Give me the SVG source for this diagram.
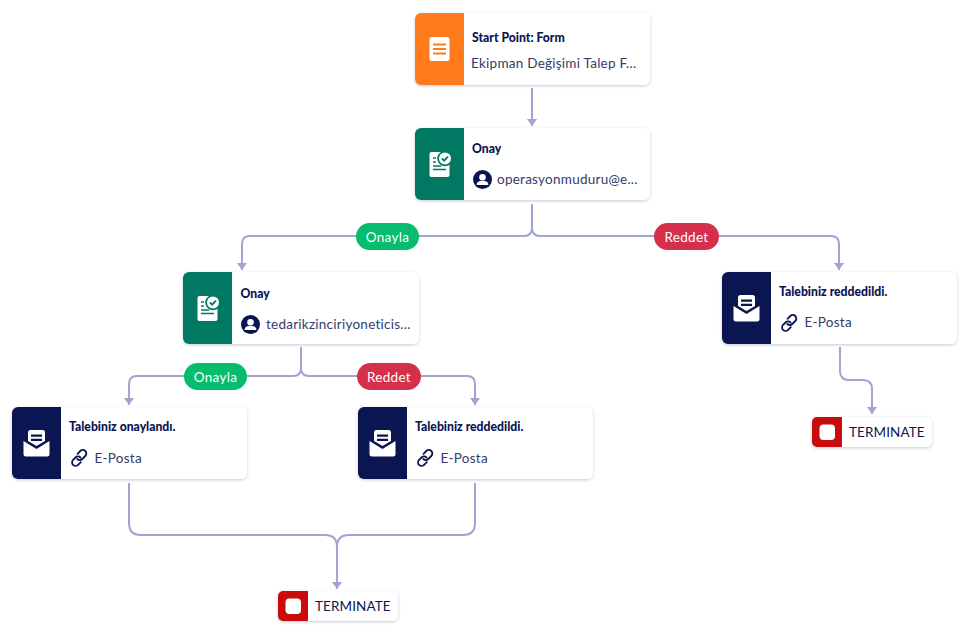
<svg xmlns="http://www.w3.org/2000/svg" xmlns:xlink="http://www.w3.org/1999/xlink" width="968" height="633" viewBox="0 0 968 633">
<style>
text{font-family:"Lato","Liberation Sans",sans-serif}
.card{fill:#fff;filter:url(#sh)}
.t{font-size:12.2px;font-weight:900;fill:#0a1551}
.s{font-size:13.5px;fill:#343c6a;letter-spacing:.25px}
.p{font-size:13.5px;fill:#fff;text-anchor:middle;letter-spacing:.3px}
.term{font-size:13.5px;fill:#0a1551;letter-spacing:.1px}
.c{fill:none;stroke:#a0a4d0;stroke-width:2;marker-end:url(#a)}
.l{fill:none;stroke:#a0a4d0;stroke-width:2}
</style>
<defs>
<filter id="sh" x="-10%" y="-20%" width="120%" height="140%"><feDropShadow dx="0" dy="1" stdDeviation="1.6" flood-color="#0a1551" flood-opacity=".22"/></filter>
<marker id="a" markerUnits="userSpaceOnUse" markerWidth="8" markerHeight="10" refX="7" refY="5" orient="auto" viewBox="0 0 8 10"><path d="M0 0L7 5L0 10Z" fill="#a0a4d0"/></marker>
<g id="user"><circle cx="9.500" cy="9.500" r="9.500" fill="#0a1551"/><circle cx="9.500" cy="7.300" r="3.300" fill="#fff"/><path d="M3.600 15c0-3 2.600-4.300 5.900-4.300s5.900 1.300 5.900 4.300z" fill="#fff"/></g>
<g id="link" fill="none" stroke="#0a1551" stroke-width="1.800" stroke-linecap="round"><path d="M6.500 5.800 9.300 3a3.500 3.500 0 0 1 5 5l-3 3a3.500 3.500 0 0 1-5 0"/><path d="M9.500 9.500a3.500 3.500 0 0 0-5 0l-2.400 2.400a3.500 3.500 0 0 0 5 5l2.700-2.700"/></g>
<g id="mail" fill="#fff"><path d="M7 0h12a2.500 2.500 0 0 1 2.500 2.500V11l-8.500 5-8.500-5V2.500A2.500 2.500 0 0 1 7 0z"/><path d="M0 11 13 19 26 11V24a2.500 2.500 0 0 1-2.500 2.500H2.500A2.500 2.500 0 0 1 0 24z"/><path d="M7.500 4.500h11v2.200h-11zM7.500 8.700h11v2.200h-11z" fill="#0a1551"/></g>
<g id="appr"><path d="M2 0h14v10h4v13a2 2 0 0 1-2 2H2a2 2 0 0 1-2-2V2a2 2 0 0 1 2-2z" fill="#fff"/><circle cx="15.500" cy="6.500" r="7.800" fill="#007862"/><circle cx="15.500" cy="6.500" r="6" fill="#fff"/><path d="m12.500 6.500 2.200 2.200 3.800-4" fill="none" stroke="#007862" stroke-width="1.800"/><path d="M3.500 6h3M3.500 10h3M3.500 14h8M3.500 17.500h13" stroke="#007862" stroke-width="1.500"/></g>
<g id="stop"><rect width="15.500" height="15.500" rx="4" fill="#fff"/></g>
<clipPath id="cc"><rect width="235" height="72" rx="6"/></clipPath>
<clipPath id="ct"><rect width="120" height="30" rx="5"/></clipPath>
</defs>

<g id="connectors">
<path class="c" d="M532 88V126"/>
<path class="c" d="M532 204V228Q532 236 524 236H250Q242 236 242 244V270"/>
<path class="c" d="M532 204V228Q532 236 540 236H831Q839 236 839 244V270"/>
<path class="c" d="M301 347V368Q301 376 293 376H137Q129 376 129 384V405"/>
<path class="c" d="M301 347V368Q301 376 309 376H467Q475 376 475 384V405"/>
<path class="c" d="M840 347V371Q840 380 849 380H863Q872 380 872 389V414"/>
<path class="l" d="M129 483V523Q129 535 141 535H325Q337 535 337 547"/>
<path class="l" d="M475 483V523Q475 535 463 535H349Q337 535 337 547"/>
<path class="c" d="M337 547V589"/>
</g>

<g id="pill-onayla-1"><rect x="356" y="223" width="63" height="27" rx="13.500" fill="#05bd6d"/><text class="p" x="387.500" y="241.500">Onayla</text></g>
<g id="pill-reddet-1"><rect x="654" y="223" width="65" height="27" rx="13.500" fill="#d5304b"/><text class="p" x="686.500" y="241.500">Reddet</text></g>
<g id="pill-onayla-2"><rect x="184" y="363" width="63" height="27" rx="13.500" fill="#05bd6d"/><text class="p" x="215.500" y="381.500">Onayla</text></g>
<g id="pill-reddet-2"><rect x="357" y="363" width="64" height="27" rx="13.500" fill="#d5304b"/><text class="p" x="389" y="381.500">Reddet</text></g>

<g id="node-form" transform="translate(415 13)">
<rect class="card" width="235" height="72" rx="6"/><rect width="49" height="72" fill="#ff7b1c" clip-path="url(#cc)"/>
<rect x="14.500" y="24" width="20" height="24" rx="2.500" fill="#fff"/><path d="M18 31.500h13M18 36h13M18 40.500h13" stroke="#ff7b1c" stroke-width="2"/>
<text class="t" x="57" y="29">Start Point: Form</text>
<text class="s" x="56" y="55">Ekipman Değişimi Talep F...</text>
</g>
<g id="node-onay-1" transform="translate(415 128)">
<rect class="card" width="235" height="72" rx="6"/><rect width="49" height="72" fill="#007862" clip-path="url(#cc)"/>
<use xlink:href="#appr" href="#appr" x="14.500" y="24"/>
<text class="t" x="57" y="25">Onay</text>
<use xlink:href="#user" href="#user" x="58" y="42"/>
<text class="s" x="82" y="56">operasyonmuduru@e...</text>
</g>
<g id="node-onay-2" transform="translate(183 272)">
<rect class="card" width="236" height="72" rx="6"/><rect width="49" height="72" fill="#007862" clip-path="url(#cc)"/>
<use xlink:href="#appr" href="#appr" x="14.500" y="24"/>
<text class="t" x="57.500" y="26">Onay</text>
<use xlink:href="#user" href="#user" x="58" y="43"/>
<text class="s" x="83" y="56.500">tedarikzinciriyoneticis...</text>
</g>
<g id="node-red-1" transform="translate(722 272)">
<rect class="card" width="235" height="72" rx="6"/><rect width="49" height="72" fill="#0a1551" clip-path="url(#cc)"/>
<use xlink:href="#mail" href="#mail" x="11.500" y="23"/>
<text class="t" x="57" y="24">Talebiniz reddedildi.</text>
<use xlink:href="#link" href="#link" x="59" y="41"/>
<text class="s" x="82.500" y="55">E-Posta</text>
</g>
<g id="node-ok" transform="translate(12 407)">
<rect class="card" width="235" height="72" rx="6"/><rect width="49" height="72" fill="#0a1551" clip-path="url(#cc)"/>
<use xlink:href="#mail" href="#mail" x="11.500" y="23"/>
<text class="t" x="57" y="24">Talebiniz onaylandı.</text>
<use xlink:href="#link" href="#link" x="59" y="41"/>
<text class="s" x="82.500" y="55.500">E-Posta</text>
</g>
<g id="node-red-2" transform="translate(358 407)">
<rect class="card" width="235" height="72" rx="6"/><rect width="49" height="72" fill="#0a1551" clip-path="url(#cc)"/>
<use xlink:href="#mail" href="#mail" x="11.500" y="23"/>
<text class="t" x="57" y="24">Talebiniz reddedildi.</text>
<use xlink:href="#link" href="#link" x="59" y="41"/>
<text class="s" x="82.500" y="55.500">E-Posta</text>
</g>
<g id="term-1" transform="translate(812 417)">
<rect class="card" width="120" height="30" rx="5"/><rect width="30" height="30" fill="#c90b0e" clip-path="url(#ct)"/>
<use xlink:href="#stop" href="#stop" x="7.500" y="7.500"/>
<text class="term" x="37" y="20">TERMINATE</text>
</g>
<g id="term-2" transform="translate(278 591)">
<rect class="card" width="120" height="30" rx="5"/><rect width="30" height="30" fill="#c90b0e" clip-path="url(#ct)"/>
<use xlink:href="#stop" href="#stop" x="7.500" y="7.500"/>
<text class="term" x="37" y="20">TERMINATE</text>
</g>
</svg>
